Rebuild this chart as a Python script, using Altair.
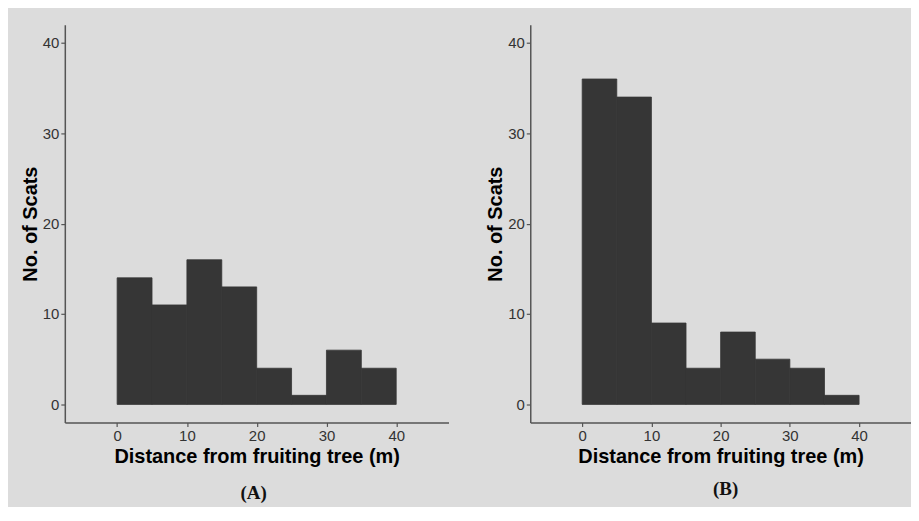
import altair as alt
import pandas as pd

bin_start = [0, 5, 10, 15, 20, 25, 30, 35]
bin_end = [5, 10, 15, 20, 25, 30, 35, 40]
counts_a = [14, 11, 16, 13, 4, 1, 6, 4]
counts_b = [36, 34, 9, 4, 8, 5, 4, 1]
x_ticks = [0, 10, 20, 30, 40]
y_ticks = [0, 10, 20, 30, 40]
captions = ["(A)", "(B)"]
x_title = "Distance from fruiting tree (m)"
y_title = "No. of Scats"


def panel(counts, caption, width, offset, dx):
    df = pd.DataFrame({"start": bin_start, "end": bin_end, "count": counts,
                       "base": [0] * len(counts)})
    return alt.Chart(
        df,
        title=alt.TitleParams(caption, orient="bottom", font="Liberation Serif",
                              fontSize=19, fontWeight="bold", color="#111111",
                              offset=offset, dx=dx),
    ).mark_rect(color="#363636", stroke="#363636", strokeWidth=0.8).encode(
        x=alt.X("start:Q",
                scale=alt.Scale(domain=[-7.5, 47.5], nice=False, zero=False),
                axis=alt.Axis(values=x_ticks, title=x_title, titlePadding=3)),
        x2="end:Q",
        y=alt.Y("count:Q",
                scale=alt.Scale(domain=[-2, 42], nice=False, zero=False),
                axis=alt.Axis(values=y_ticks, title=y_title, titlePadding=2)),
        y2="base:Q",
    ).properties(width=width, height=399)


chart = alt.hconcat(
    panel(counts_a, captions[0], 385, 18, -3),
    panel(counts_b, captions[1], 382, 14, 5),
    spacing=37,
).properties(
    background="#dcdcdc",
    padding={"left": 12, "top": 16, "right": 0, "bottom": 3},
).configure_view(stroke=None).configure_axis(
    labelFont="Liberation Sans", labelFontSize=15, labelColor="#333333",
    titleFont="Liberation Sans", titleFontSize=20, titleFontWeight="bold",
    titleColor="#000000", domainColor="#555555", tickColor="#555555",
    domainWidth=1.5, tickWidth=1.2, tickSize=4, labelPadding=2, grid=False,
)

chart.save("out.html", embed_options={"renderer": "svg", "actions": False})
